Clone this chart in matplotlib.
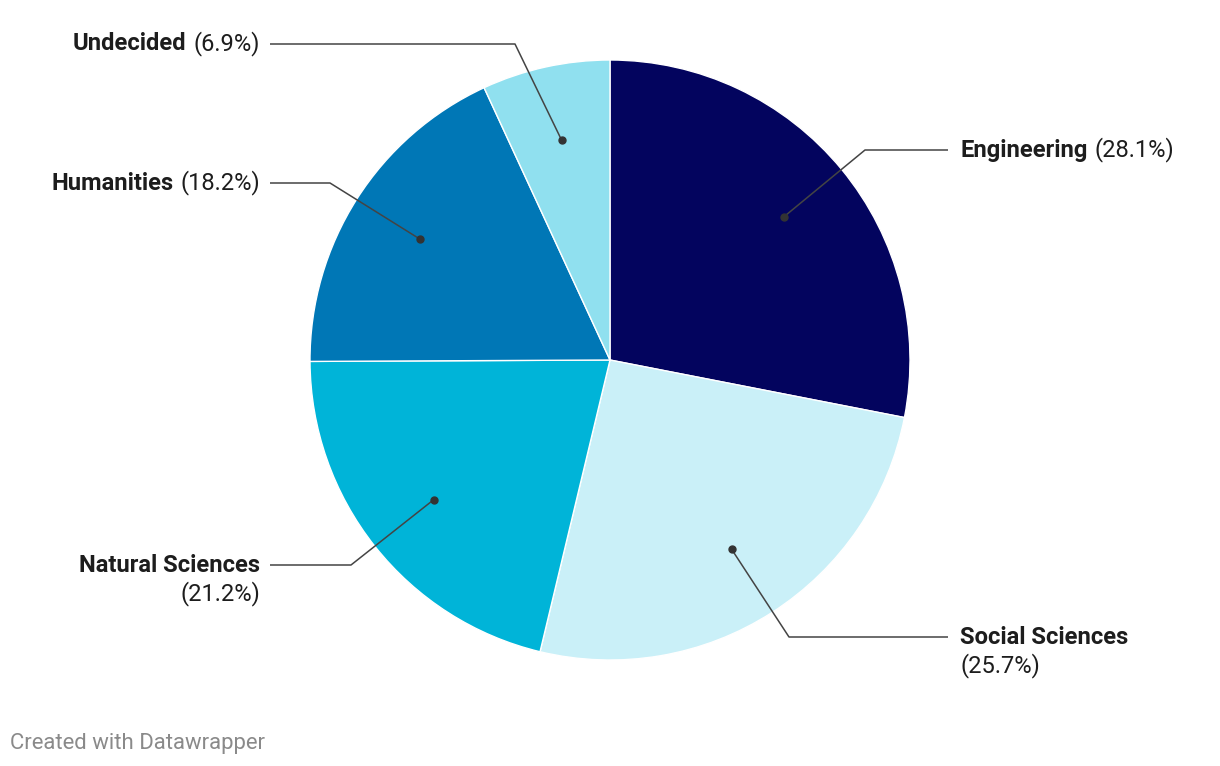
import numpy as np
import matplotlib.pyplot as plt

categories = ["Engineering", "Social Sciences", "Natural Sciences", "Humanities", "Undecided"]
shares = [28.1, 25.7, 21.2, 18.2, 6.9]
colors = ["#03045e", "#caf0f8", "#00b4d8", "#0077b6", "#90e0ef"]

W, H = 1220, 766
plt.rcParams['font.family'] = ['Roboto', 'DejaVu Sans']

fig = plt.figure(figsize=(W / 100, H / 100), dpi=100)
ax = fig.add_axes([0, 0, 1, 1])

# pixel layout, y measured from the top
cx, cy, R = 610, 360, 300
wedges, _ = ax.pie(shares, colors=colors, startangle=90, counterclock=False,
                   center=(cx, H - cy), radius=R,
                   wedgeprops=dict(edgecolor='white', linewidth=1))
ax.set_xlim(0, W)
ax.set_ylim(0, H)
ax.set_aspect('equal')
ax.axis('off')

# label layout: elbow, line end, text x, alignment, two lines?
layout = {
    "Engineering":      ((865, 150), (948, 150), 960, 'left', False),
    "Social Sciences":  ((789, 637), (948, 637), 960, 'left', True),
    "Natural Sciences": ((351, 565), (270, 565), 260, 'right', True),
    "Humanities":       ((330, 183), (270, 183), 260, 'right', False),
    "Undecided":        ((515, 44), (270, 44), 260, 'right', False),
}

txt_col = "#1d1d1d"
line_col = "#444444"
fs = 17.1
fig.canvas.draw()
renderer = fig.canvas.get_renderer()

for w, name, val in zip(wedges, categories, shares):
    mid = np.deg2rad((w.theta1 + w.theta2) / 2)
    dx = cx + 0.75 * R * np.cos(mid)
    dy = (H - cy) + 0.75 * R * np.sin(mid)
    elbow, end, tx, ha, two = layout[name]
    ax.plot([dx, elbow[0], end[0]], [dy, H - elbow[1], H - end[1]],
            color=line_col, lw=1.1, solid_capstyle='butt')
    ax.plot(dx, dy, 'o', color='#333333', markersize=5)
    ty = H - end[1]
    pct = "(%.1f%%)" % val
    if two:
        ax.text(tx, ty, name, ha=ha, va='center', fontsize=fs,
                fontweight='bold', color=txt_col)
        ax.text(tx, ty - 28.5, pct, ha=ha, va='center', fontsize=fs, color=txt_col)
    elif ha == 'left':
        t1 = ax.text(tx, ty, name, ha='left', va='center', fontsize=fs,
                     fontweight='bold', color=txt_col)
        bb = t1.get_window_extent(renderer)
        ax.text(bb.x1 + 7, ty, pct, ha='left', va='center', fontsize=fs, color=txt_col)
    else:
        t2 = ax.text(tx, ty, pct, ha='right', va='center', fontsize=fs, color=txt_col)
        bb = t2.get_window_extent(renderer)
        ax.text(bb.x0 - 7, ty, name, ha='right', va='center', fontsize=fs,
                fontweight='bold', color=txt_col)

ax.text(10, H - 743, "Created with Datawrapper", ha='left', va='center',
        fontsize=15.9, color='#8a8a8a')

fig.savefig("out.png", dpi=100)
